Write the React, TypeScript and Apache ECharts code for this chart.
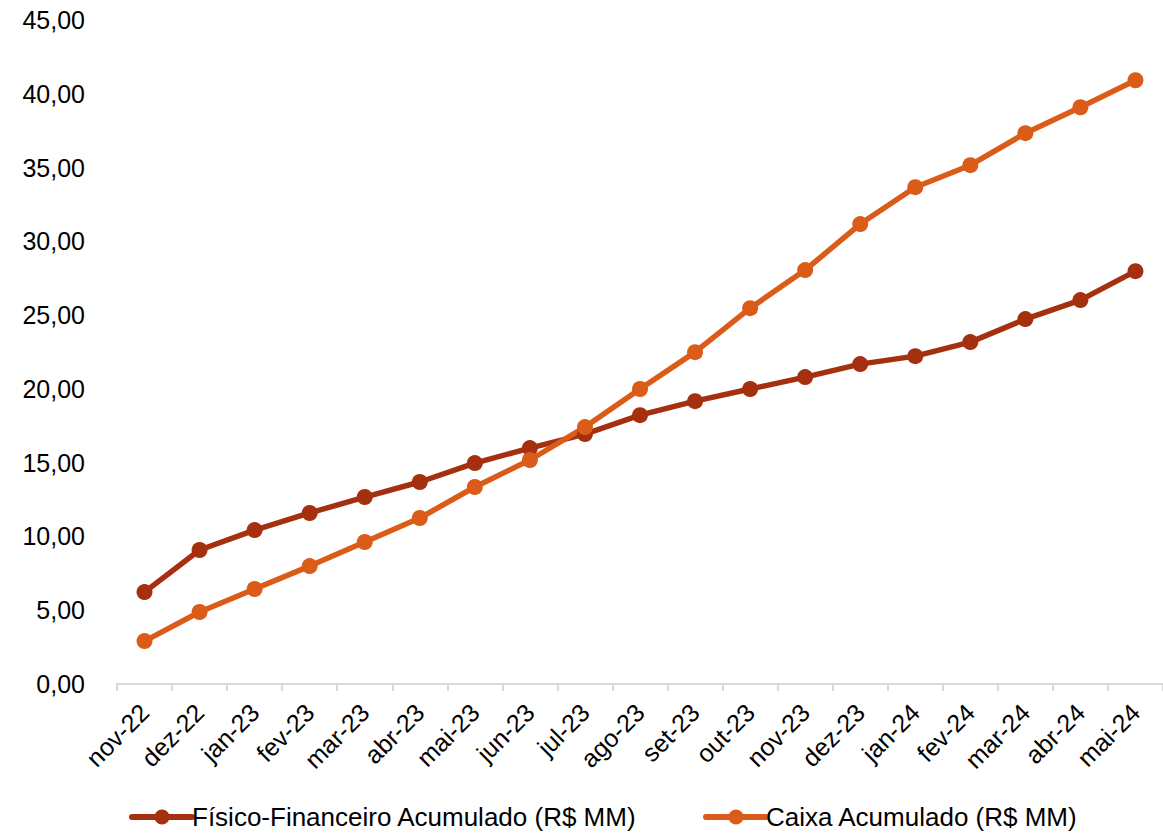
import React, { useEffect, useRef } from "react";
import * as echarts from "echarts";

const categories = ["nov-22","dez-22","jan-23","fev-23","mar-23","abr-23","mai-23","jun-23","jul-23","ago-23","set-23","out-23","nov-23","dez-23","jan-24","fev-24","mar-24","abr-24","mai-24"];
const fisicoFinanceiro = [6.23, 9.08, 10.43, 11.59, 12.67, 13.69, 14.97, 15.99, 16.94, 18.22, 19.17, 19.99, 20.80, 21.68, 22.22, 23.17, 24.73, 26.02, 27.98];
const caixa = [2.91, 4.88, 6.44, 7.99, 9.62, 11.25, 13.35, 15.18, 17.41, 19.99, 22.49, 25.47, 28.05, 31.17, 33.67, 35.16, 37.33, 39.09, 40.92];
const seriesNames = ["Físico-Financeiro Acumulado (R$ MM)", "Caixa Acumulado (R$ MM)"];
const colors = ["#A5300F", "#DB5C18"];

export default function App() {
  const ref = useRef<HTMLDivElement>(null);
  useEffect(() => {
    if (!ref.current) return;
    const chart = echarts.init(ref.current, null, { renderer: "svg" });
    const font = "'Liberation Sans', Arial, sans-serif";
    chart.setOption({
      animation: false,
      backgroundColor: "#ffffff",
      textStyle: { fontFamily: font },
      grid: { left: 117, right: -2, top: 20, bottom: 150, containLabel: false },
      legend: {
        bottom: -1,
        left: 124,
        itemWidth: 60,
        itemHeight: 19,
        itemGap: 66,
        lineStyle: { width: 6, cap: "round" },
        textStyle: { fontSize: 26, color: "#000", fontFamily: font, padding: [0, 0, 0, -5] },
        data: seriesNames,
      },
      xAxis: {
        type: "category",
        data: categories,
        boundaryGap: true,
        axisLine: { show: true, lineStyle: { color: "#d9d9d9", width: 2 } },
        axisTick: { show: true, length: 7, lineStyle: { color: "#d9d9d9", width: 2 } },
        axisLabel: { rotate: 45, fontSize: 25, color: "#000", margin: 24, interval: 0, fontFamily: font },
        splitLine: { show: false },
      },
      yAxis: {
        type: "value",
        min: 0,
        max: 45,
        interval: 5,
        axisLine: { show: false },
        axisTick: { show: false },
        splitLine: { show: false },
        axisLabel: {
          fontSize: 25,
          color: "#000",
          margin: 32,
          fontFamily: font,
          formatter: (v: number) => v.toFixed(2).replace(".", ","),
        },
      },
      series: [
        {
          name: seriesNames[0],
          type: "line",
          data: fisicoFinanceiro,
          color: colors[0],
          lineStyle: { width: 5.5, color: colors[0] },
          itemStyle: { color: colors[0] },
          symbol: "circle",
          symbolSize: 16,
        },
        {
          name: seriesNames[1],
          type: "line",
          data: caixa,
          color: colors[1],
          lineStyle: { width: 5.5, color: colors[1] },
          itemStyle: { color: colors[1] },
          symbol: "circle",
          symbolSize: 16,
        },
      ],
    });
    return () => chart.dispose();
  }, []);
  return (
    <div
      ref={ref}
      style={{ position: "absolute", left: 0, top: 0, width: 1163, height: 834 }}
    />
  );
}
